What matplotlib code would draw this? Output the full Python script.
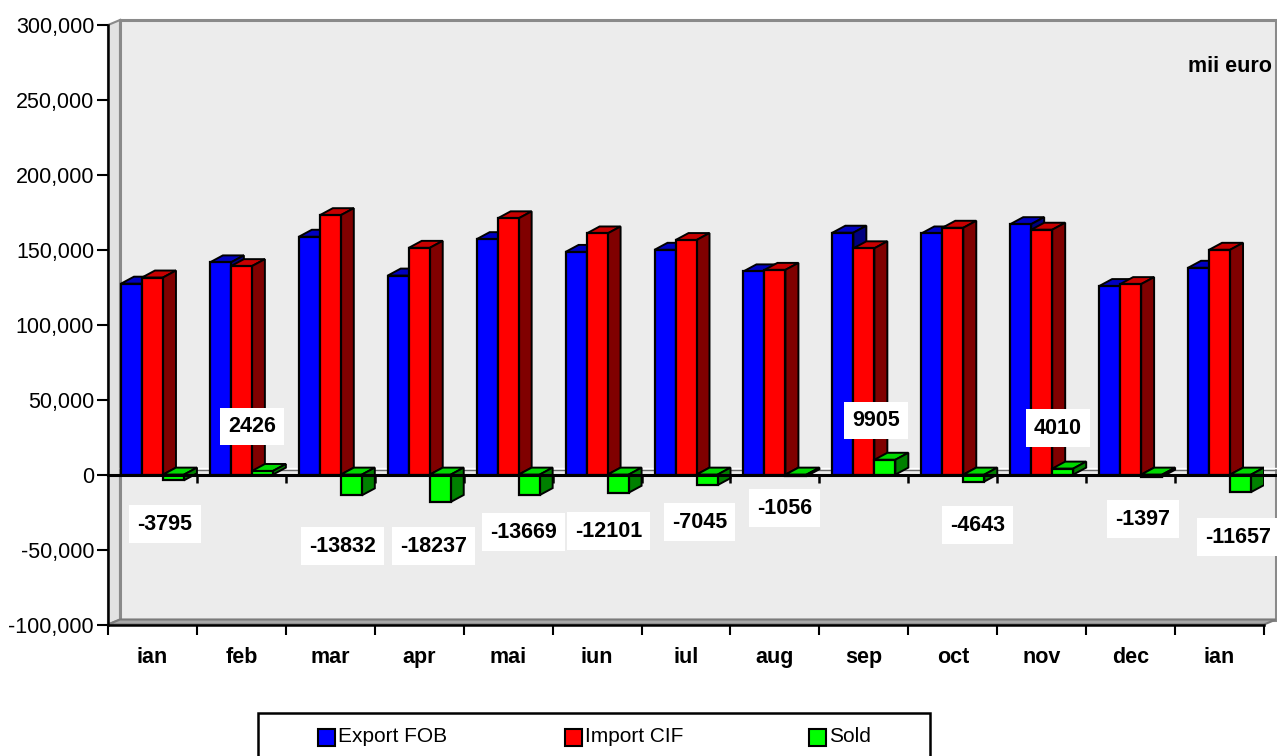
import matplotlib
matplotlib.use("Agg")
import matplotlib.pyplot as plt
from matplotlib.patches import Polygon, Rectangle
from matplotlib.ticker import FuncFormatter, MultipleLocator, FixedLocator

plt.rcParams['font.family'] = ['Liberation Sans', 'DejaVu Sans']

# ---------------- data ----------------
months = ["ian", "feb", "mar", "apr", "mai", "iun", "iul", "aug", "sep", "oct", "nov", "dec", "ian"]
export_fob = [127400, 141600, 158700, 132800, 157100, 148600, 150000, 135600, 161400, 160900, 167100, 125800, 138000]
import_cif = [131500, 139100, 173100, 151300, 171000, 160900, 156500, 136600, 151000, 164700, 163400, 127100, 150000]
sold = [-3795, 2426, -13832, -18237, -13669, -12101, -7045, -1056, 9905, -4643, 4010, -1397, -11657]
series_names = ["Export FOB", "Import CIF", "Sold"]
unit_label = "mii euro"

# label placement (x offset in category units, y in value units)
label_xoff = [0.14, 0.12, 0.14, 0.16, 0.17, 0.13, 0.15, 0.11, 0.14, 0.28, 0.18, 0.14, 0.21]
label_y = [-33000, 32300, -47700, -47700, -38300, -37700, -31700, -22300, 36300, -33700, 31000, -29700, -41700]

# ---------------- styling ----------------
front_cols = ["#0000FF", "#FF0000", "#00FF00"]
top_cols = ["#0000C0", "#C80000", "#00D800"]
side_cols = ["#000080", "#800000", "#008000"]

W, H = 1277, 756
fig = plt.figure(figsize=(W / 100, H / 100), dpi=100)
fig.patch.set_facecolor("white")

AX_L, AX_R, AX_T, AX_B = 108, 1264, 25, 624.5
ax = fig.add_axes([AX_L / W, 1 - AX_B / H, (AX_R - AX_L) / W, (AX_B - AX_T) / H])
n = len(months)
YMIN, YMAX = -100000, 300000
ax.set_xlim(0, n)
ax.set_ylim(YMIN, YMAX)
ax.patch.set_visible(False)

px_x = n / (AX_R - AX_L)
px_y = (YMAX - YMIN) / (AX_B - AX_T)
wdx, wdy = 12 * px_x, 5 * px_y      # wall depth offset
bdx, bdy = 13 * px_x, 7 * px_y      # bar depth offset
bw = 21 * px_x                      # bar width

# ---- walls ----
ax.add_patch(Polygon([(0, YMIN), (0, YMAX), (wdx, YMAX + wdy), (wdx, YMIN + wdy)],
                     closed=True, fc="#e2e2e2", ec="#8a8a8a", lw=1.5, zorder=0, clip_on=False))
ax.add_patch(Rectangle((wdx, YMIN + wdy), n, YMAX - YMIN, fc="#ececec", ec="#8a8a8a",
                       lw=2.2, zorder=0, clip_on=False))
ax.add_patch(Polygon([(0, YMIN), (n, YMIN), (n + wdx, YMIN + wdy), (wdx, YMIN + wdy)],
                     closed=True, fc="#a8a8a8", ec="#7a7a7a", lw=1.5, zorder=0.5, clip_on=False))
# zero gridline on back wall
ax.plot([wdx, n + wdx], [wdy, wdy], color="#6a6a6a", lw=1.0, zorder=0.6, clip_on=False)
ax.plot([wdx, n + wdx], [wdy + 1.5 * px_y, wdy + 1.5 * px_y], color="white", lw=1.0, zorder=0.6, clip_on=False)

# ---- 3D bars ----
all_series = [export_fob, import_cif, sold]
for s, vals in enumerate(all_series):
    z = 2 + s
    lefts = [i + 0.5 - 1.5 * bw + s * bw for i in range(n)]
    ax.bar(lefts, vals, width=bw, align="edge", color=front_cols[s], edgecolor="black",
           linewidth=1.6, zorder=z + 0.2)
    for x0, v in zip(lefts, vals):
        ytop = max(v, 0)
        ybot = min(v, 0)
        ax.add_patch(Polygon([(x0, ytop), (x0 + bw, ytop), (x0 + bw + bdx, ytop + bdy), (x0 + bdx, ytop + bdy)],
                             closed=True, fc=top_cols[s], ec="black", lw=1.4, zorder=z))
        ax.add_patch(Polygon([(x0 + bw, ybot), (x0 + bw, ytop), (x0 + bw + bdx, ytop + bdy), (x0 + bw + bdx, ybot + bdy)],
                             closed=True, fc=side_cols[s], ec="black", lw=1.4, zorder=z))

# ---- zero line with ticks ----
ax.plot([0, n + 0.9 * wdx], [0, 0], color="black", lw=2.2, zorder=6, clip_on=False)
ax.vlines(range(1, n), 0, -8 * px_y, color="black", lw=1.8, zorder=6)

# ---- data labels ----
for i, v in enumerate(sold):
    ax.text(i + 0.5 + label_xoff[i], label_y[i], f"{v}", ha="center", va="center",
            fontsize=15.5, fontweight="bold", color="black", zorder=8,
            bbox=dict(boxstyle="square,pad=0.38", fc="white", ec="none"))

# ---- axes ----
for sp in ["top", "right"]:
    ax.spines[sp].set_visible(False)
for sp in ["left", "bottom"]:
    ax.spines[sp].set_color("black")
    ax.spines[sp].set_linewidth(1.8)
    ax.spines[sp].set_zorder(7)

ax.yaxis.set_major_locator(MultipleLocator(50000))
ax.yaxis.set_major_formatter(FuncFormatter(lambda v, p: f"{v:,.0f}"))
ax.tick_params(axis="y", direction="out", length=8, width=1.5, pad=2, labelsize=15.5, colors="black")

ax.xaxis.set_major_locator(FixedLocator([i + 0.5 for i in range(n)]))
ax.xaxis.set_minor_locator(FixedLocator(list(range(n + 1))))
ax.set_xticklabels(months, fontsize=15.5, fontweight="bold")
ax.tick_params(axis="x", which="major", length=0, pad=16)
ax.tick_params(axis="x", which="minor", direction="out", length=7.5, width=1.5)

ax.text(1 + (wdx - 0.05) / n, 0.93, unit_label, transform=ax.transAxes, ha="right", va="center",
        fontsize=15.5, fontweight="bold", zorder=8)

# ---- legend (bottom box) ----
def fx(x):
    return x / W

def fy(y):
    return 1 - y / H

fig.patches.append(Rectangle((fx(258), fy(770)), fx(930) - fx(258), fy(713) - fy(770),
                             transform=fig.transFigure, fc="white", ec="black", lw=1.8, zorder=1))
leg_x = [318, 565, 809]
for s, name in enumerate(series_names):
    fig.patches.append(Rectangle((fx(leg_x[s]), fy(745.5)), fx(17), 17 / H,
                                 transform=fig.transFigure, fc=front_cols[s], ec="black", lw=1.5, zorder=2))
    fig.text(fx(leg_x[s] + 20), fy(737), name, ha="left", va="center", fontsize=15, zorder=3)

fig.savefig("out.png", dpi=100)
